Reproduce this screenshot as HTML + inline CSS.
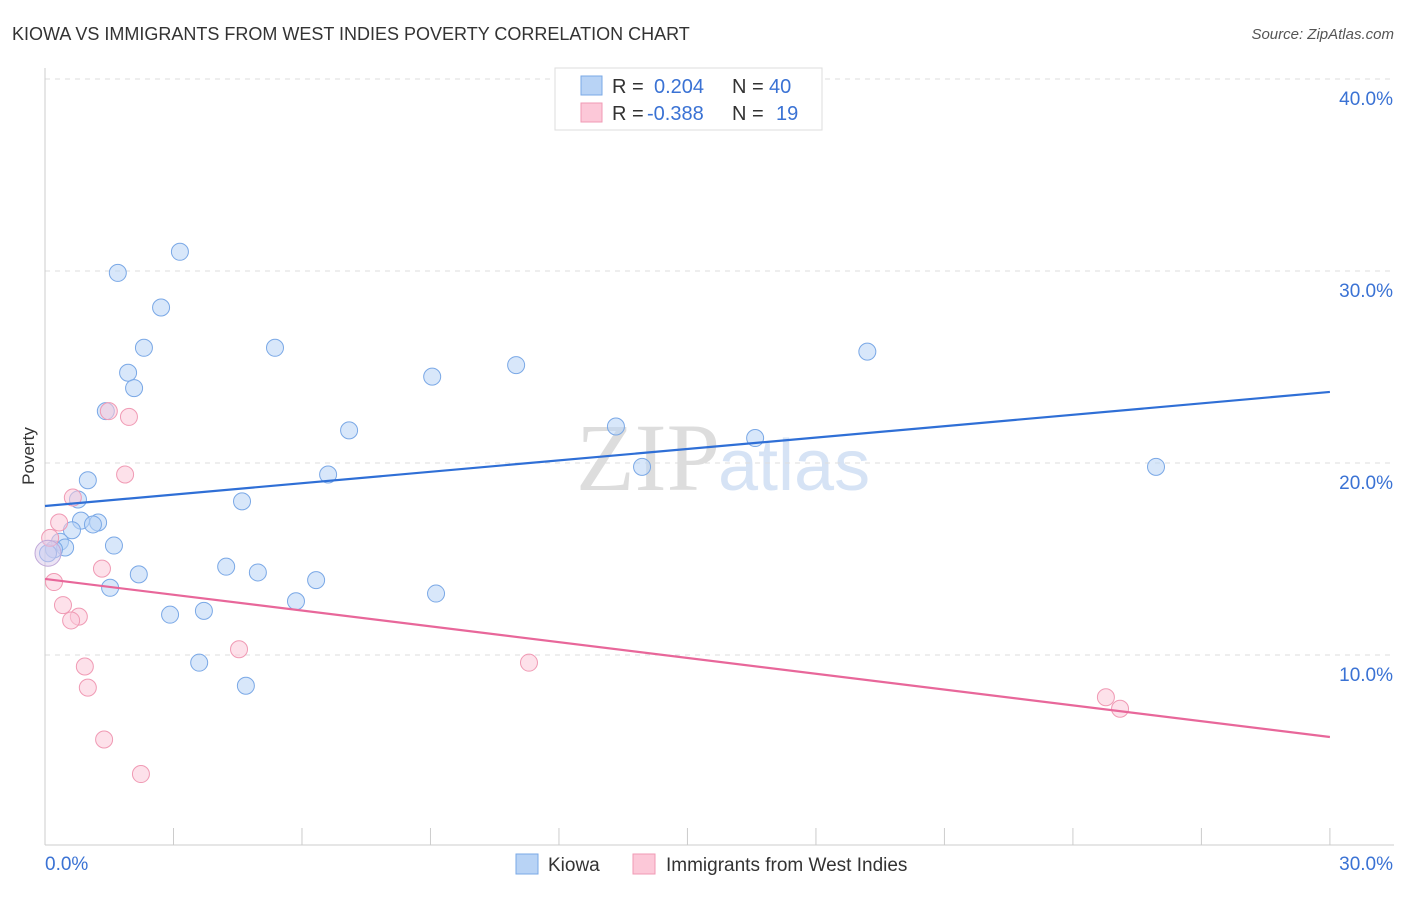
<!DOCTYPE html>
<html><head><meta charset="utf-8"><style>
body{margin:0;background:#fff;font-family:"Liberation Sans",sans-serif}
</style></head><body>
<svg id="c" width="1406" height="892" xmlns="http://www.w3.org/2000/svg" font-family="Liberation Sans, sans-serif">
<text x="12" y="40" font-size="18" fill="#333">KIOWA VS IMMIGRANTS FROM WEST INDIES POVERTY CORRELATION CHART</text>
<text x="1394" y="39" font-size="15" fill="#555" font-style="italic" text-anchor="end">Source: ZipAtlas.com</text>
<text x="720" y="490" font-size="96" fill="#ddd" text-anchor="end" font-family="Liberation Serif, serif">ZIP</text>
<text x="718" y="490" font-size="72" fill="#d6e3f5">atlas</text>
<text transform="translate(34,456) rotate(-90)" font-size="17" fill="#333" text-anchor="middle">Poverty</text>
<g id="grid"></g><g id="axes"></g><g id="pts"></g><g id="lines"></g>
<g>
<rect x="555" y="68" width="267" height="62" fill="#fff" stroke="#ddd"/>
<rect x="581" y="76" width="21" height="19" fill="#b8d3f5" stroke="#7aa8e6"/>
<rect x="581" y="103" width="21" height="19" fill="#fcc8d8" stroke="#f09ab4"/>
<text x="612" y="93" font-size="20" fill="#333">R =</text>
<text x="654" y="93" font-size="20" fill="#3a72d4">0.204</text>
<text x="732" y="93" font-size="20" fill="#333">N =</text>
<text x="769" y="93" font-size="20" fill="#3a72d4">40</text>
<text x="612" y="120" font-size="20" fill="#333">R =</text>
<text x="647" y="120" font-size="20" fill="#3a72d4">-0.388</text>
<text x="732" y="120" font-size="20" fill="#333">N =</text>
<text x="776" y="120" font-size="20" fill="#3a72d4">19</text>
</g>
<g>
<rect x="516" y="854" width="22" height="20" fill="#b8d3f5" stroke="#7aa8e6"/>
<text x="548" y="871" font-size="19" fill="#333">Kiowa</text>
<rect x="633" y="854" width="22" height="20" fill="#fcc8d8" stroke="#f09ab4"/>
<text x="666" y="871" font-size="19" fill="#333">Immigrants from West Indies</text>
</g>
</svg>
<script>
const xTicks=[0,30];
const yTicks=[10,20,30,40];
const blueX=[1.70,3.15,2.71,2.31,1.94,2.08,1.42,5.37,9.04,11.0,19.2,7.10,13.33,16.58,13.94,25.94,6.61,1.00,0.77,4.60,0.84,1.24,1.12,0.63,0.35,0.47,1.61,0.21,4.23,4.97,2.19,6.33,1.52,9.13,5.86,3.71,2.92,3.60,4.69,0.07];
const blueY=[29.9,31.0,28.1,26.0,24.7,23.9,22.7,26.0,24.5,25.1,25.8,21.7,21.9,21.3,19.8,19.8,19.4,19.1,18.1,18.0,17.0,16.9,16.8,16.5,15.9,15.6,15.7,15.5,14.6,14.3,14.2,13.9,13.5,13.2,12.8,12.3,12.1,9.6,8.4,15.3];
const pinkX=[1.49,1.96,1.87,0.65,0.33,0.12,1.33,0.21,0.42,0.79,0.61,4.53,0.93,11.3,1.00,24.77,25.1,1.38,2.24];
const pinkY=[22.7,22.4,19.4,18.2,16.9,16.1,14.5,13.8,12.6,12.0,11.8,10.3,9.4,9.6,8.3,7.8,7.2,5.6,3.8];
const blueTrend=[17.76,23.7];
const pinkTrend=[13.96,5.73];
const X=v=>45+v*42.83, Y=v=>847-v*19.2;
const NS="http://www.w3.org/2000/svg";
function mk(p,t,a){const e=document.createElementNS(NS,t);for(const k in a)e.setAttribute(k,a[k]);document.getElementById(p).appendChild(e);return e;}
yTicks.forEach(t=>{
 const l=mk('grid','line',{x1:45,x2:1394,y1:Y(t),y2:Y(t),stroke:'#ddd','stroke-dasharray':'5,5'});
 
 
 const tx=mk('grid','text',{x:1393,y:Y(t)+26,'font-size':19,fill:'#3a72d4','text-anchor':'end'});tx.textContent=t.toFixed(1)+'%';
 
 
});
const ax=mk('axes','line',{x1:45,x2:45,y1:68,y2:845,stroke:'#ccc'});


const bx=mk('axes','line',{x1:45,x2:1394,y1:845,y2:845,stroke:'#ccc'});


for(let i=0;i<=10;i++){const v=i*3;const t=mk('axes','line',{x1:X(v),x2:X(v),y1:828,y2:845,stroke:'#ccc'});
 
 }
xTicks.forEach((t,i)=>{const tx=mk('axes','text',{x:i?1393:45,y:870,'font-size':19,fill:'#3a72d4','text-anchor':i?'end':'start'});tx.textContent=t.toFixed(1)+'%';
 
 });
function pts(xs,ys,f,s,n){xs.forEach((x,i)=>{const c=mk('pts','circle',{cx:X(x),cy:Y(ys[i]),r:8.5,fill:f,'fill-opacity':0.55,stroke:s,'stroke-width':1});
 
 });}
pts(blueX,blueY,'#b8d3f5','#7aa8e6','kiowa-point');
pts(pinkX,pinkY,'#fcc8d8','#f09ab4','west-indies-point');
const big=mk('pts','circle',{cx:X(0.07),cy:Y(15.3),r:13,fill:'#d8c8ea','fill-opacity':0.5,stroke:'#c0a8d8'});


const bl=mk('lines','line',{x1:X(0),x2:X(30),y1:Y(blueTrend[0]),y2:Y(blueTrend[1]),stroke:'#2f6fd6','stroke-width':2.2});


const pl=mk('lines','line',{x1:X(0),x2:X(30),y1:Y(pinkTrend[0]),y2:Y(pinkTrend[1]),stroke:'#e8679a','stroke-width':2.2});


</script>
</body></html>
